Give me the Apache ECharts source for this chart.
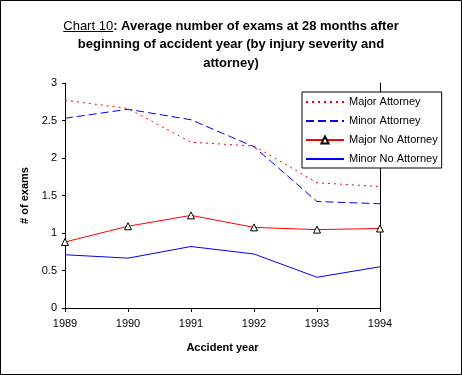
<!DOCTYPE html>
<html><head><meta charset="utf-8">
<script src="https://cdn.jsdelivr.net/npm/echarts@6/dist/echarts.min.js"></script>
<style>html,body{margin:0;padding:0;background:#fff}#c{width:462px;height:375px}</style>
</head><body><div id="c"></div>
<script>
const years = ['1989','1990','1991','1992','1993','1994'];
const majorAttorney = [2.77, 2.66, 2.21, 2.16, 1.67, 1.62];
const minorAttorney = [2.53, 2.65, 2.51, 2.15, 1.42, 1.39];
const majorNoAttorney = [0.88, 1.09, 1.235, 1.075, 1.045, 1.06];
const minorNoAttorney = [0.71, 0.665, 0.82, 0.72, 0.41, 0.55];
const seriesNames = ['Major Attorney','Minor Attorney','Major No Attorney','Minor No Attorney'];
const titleLines = ['Chart 10', ': Average number of exams at 28 months after', 'beginning of accident year (by injury severity and', 'attorney)'];

const FONT = '"Liberation Sans", Arial, sans-serif';
const TS = 13;
const cv = document.createElement('canvas').getContext('2d');
cv.font = 'normal ' + TS + 'px ' + FONT;
const wU = cv.measureText(titleLines[0]).width;
cv.font = 'bold ' + TS + 'px ' + FONT;
const wB = cv.measureText(titleLines[1]).width;
const startX = 231 - (wU + wB) / 2;

const chart = echarts.init(document.getElementById('c'));
chart.setOption({
  animation: false,
  backgroundColor: '#fff',
  textStyle: { fontFamily: FONT, color: '#000' },
  title: {
    text: '{u|' + titleLines[0] + '}{b|' + titleLines[1] + '}\n{b|' + titleLines[2] + '}\n{b|' + titleLines[3] + '}',
    left: 'center', top: 12,
    textStyle: {
      fontFamily: FONT, fontSize: TS, fontWeight: 'bold', lineHeight: 18.5,
      rich: {
        u: { fontFamily: FONT, fontSize: TS, fontWeight: 'normal', lineHeight: 18.5, color: '#000' },
        b: { fontFamily: FONT, fontSize: TS, fontWeight: 'bold', lineHeight: 18.5, color: '#000' }
      }
    }
  },
  graphic: [
    { type: 'rect', shape: { x: 0.5, y: 0.5, width: 461, height: 374 }, style: { fill: 'none', stroke: '#000', lineWidth: 1 }, z: 100 },
    { type: 'line', shape: { x1: startX, y1: 31.5, x2: startX + wU, y2: 31.5 }, style: { stroke: '#000', lineWidth: 1 }, z: 100 }
  ],
  legend: {
    orient: 'vertical', left: 302, top: 92,
    backgroundColor: '#fff', borderColor: '#000', borderWidth: 1,
    padding: [3, 4, 2, 3], itemGap: 5, itemWidth: 38, itemHeight: 9,
    textStyle: { fontFamily: FONT, fontSize: 11, color: '#000', lineHeight: 14 },
    data: [
      { name: seriesNames[0], itemStyle: { opacity: 0 } },
      { name: seriesNames[1], itemStyle: { opacity: 0 } },
      { name: seriesNames[2] },
      { name: seriesNames[3], itemStyle: { opacity: 0 } }
    ]
  },
  grid: { left: 65, right: 82, top: 83, bottom: 67, containLabel: false },
  xAxis: {
    type: 'category', data: years, boundaryGap: false,
    name: 'Accident year', nameLocation: 'middle', nameGap: 34,
    nameTextStyle: { fontFamily: FONT, fontSize: 11, fontWeight: 'bold', color: '#000' },
    axisLine: { lineStyle: { color: '#000', width: 1 } },
    axisTick: { show: true, length: 4, inside: false, lineStyle: { color: '#000' } },
    axisLabel: { color: '#000', fontSize: 11, margin: 10, fontFamily: FONT },
    splitLine: { show: false }
  },
  yAxis: [{
    type: 'value', min: 0, max: 3, interval: 0.5,
    name: '# of exams', nameLocation: 'middle', nameGap: 26, nameRotate: 90,
    nameTextStyle: { fontFamily: FONT, fontSize: 11, fontWeight: 'bold', color: '#000' },
    axisLine: { show: true, lineStyle: { color: '#000', width: 1 } },
    axisTick: { show: true, length: 3, lineStyle: { color: '#000' } },
    axisLabel: { color: '#000', fontSize: 11, margin: 8, fontFamily: FONT },
    splitLine: { show: false }
  }, {
    type: 'value', min: 0, max: 3, interval: 0.5, position: 'right',
    axisLine: { show: true, lineStyle: { color: '#000', width: 1 } },
    axisTick: { show: false }, axisLabel: { show: false }, splitLine: { show: false }
  }],
  series: [
    { name: seriesNames[0], type: 'line', data: majorAttorney, showSymbol: false, symbol: 'none',
      lineStyle: { color: '#ff0000', width: 1, type: [2, 4] }, itemStyle: { color: '#ff0000' } },
    { name: seriesNames[1], type: 'line', data: minorAttorney, showSymbol: false, symbol: 'none',
      lineStyle: { color: '#0000ff', width: 1, type: [8, 4] }, itemStyle: { color: '#0000ff' } },
    { name: seriesNames[2], type: 'line', data: majorNoAttorney, symbol: 'triangle', symbolSize: 7, showSymbol: true,
      lineStyle: { color: '#ff0000', width: 1 }, itemStyle: { color: '#fff', borderColor: '#000', borderWidth: 1 } },
    { name: seriesNames[3], type: 'line', data: minorNoAttorney, showSymbol: false, symbol: 'none',
      lineStyle: { color: '#0000ff', width: 1 }, itemStyle: { color: '#0000ff' } }
  ]
});
</script></body></html>
